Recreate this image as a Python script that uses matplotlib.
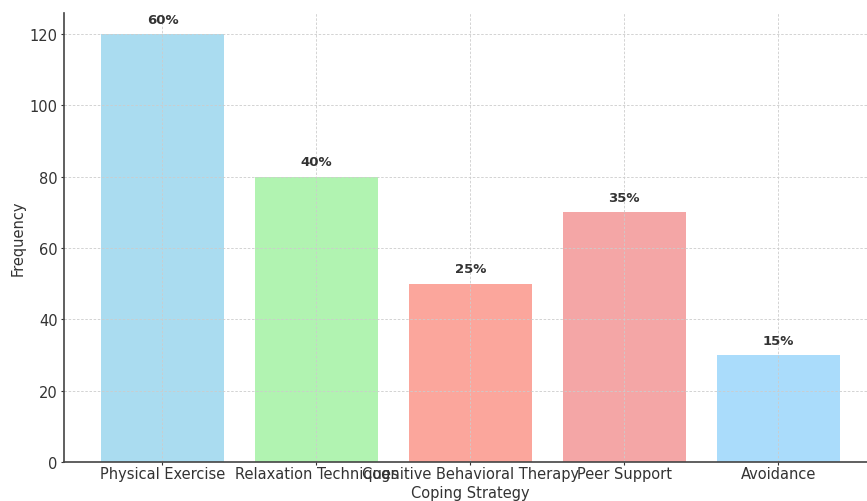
import matplotlib.pyplot as plt

# coping strategies and how often each one was reported
strategies = ["Physical Exercise", "Relaxation Techniques", "Cognitive Behavioral Therapy",
              "Peer Support", "Avoidance"]
frequency = [120, 80, 50, 70, 30]
percent = [60, 40, 25, 35, 15]
colors = ["skyblue", "lightgreen", "salmon", "lightcoral", "lightskyblue"]

fig = plt.figure(figsize=(8.67, 5.02), dpi=100)
ax = fig.add_axes([64 / 867, 39 / 502, 812.6 / 867, 449.4 / 502])

bars = ax.bar(strategies, frequency, color=colors, alpha=0.7)

for b, p in zip(bars, percent):
    ax.text(b.get_x() + b.get_width() / 2, b.get_height() + 2.3, f"{p}%",
            ha="center", va="bottom", fontweight="bold", fontsize=9.5, color="#333333")

ax.set_xlabel("Coping Strategy", fontsize=10.5, color="#333333", labelpad=3)
ax.set_ylabel("Frequency", fontsize=10.5, color="#333333", labelpad=3)
ax.tick_params(labelsize=10.5, colors="#333333", length=2.5, pad=2)
ax.tick_params(axis="x", pad=0.5)
ax.grid(True, linestyle=(0, (3, 2)), linewidth=0.6, color="#cccccc")
ax.spines["top"].set_visible(False)
ax.spines["right"].set_visible(False)
ax.spines["left"].set_color("#444444")
ax.spines["bottom"].set_color("#444444")
ax.spines["left"].set_linewidth(1.2)
ax.spines["bottom"].set_linewidth(1.2)

fig.savefig("out.png", dpi=100)
